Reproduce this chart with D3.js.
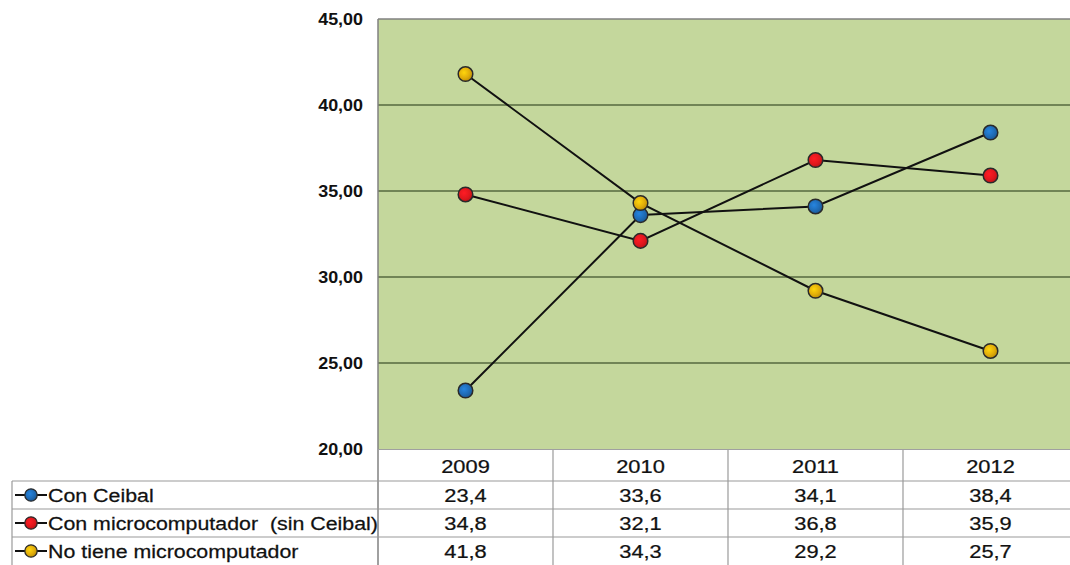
<!DOCTYPE html>
<html><head><meta charset="utf-8">
<script src="https://cdn.jsdelivr.net/npm/d3@7"></script>
<style>body{margin:0;background:#fff}svg{display:block}</style>
</head><body><svg id="c" width="1070" height="565"></svg>
<script>
const years = ["2009","2010","2011","2012"];
const seriesNames = ["Con Ceibal","Con microcomputador  (sin Ceibal)","No tiene microcomputador"];
const conCeibal = [23.4,33.6,34.1,38.4];
const conMicro = [34.8,32.1,36.8,35.9];
const noTiene = [41.8,34.3,29.2,25.7];
const yTicks = [20,25,30,35,40,45];
const colors = ["#1f6bb5","#e0171d","#e0ac0a"];

const svg = d3.select("#c");
const L = 378, R = 1078, T = 19, B = 449;
const x = d3.scaleBand().domain(years).range([L,R]);
const y = d3.scaleLinear().domain([20,45]).range([B,T]);
const fmt = v => v.toFixed(2).replace(".",",");
const fmt1 = v => v.toFixed(1).replace(".",",");

const defs = svg.append("defs");
colors.forEach((c,i)=>{
  const g = defs.append("radialGradient").attr("id","g"+i).attr("cx","40%").attr("cy","40%").attr("r","65%");
  g.append("stop").attr("offset","0%").attr("stop-color",d3.color(c).brighter(0.6));
  g.append("stop").attr("offset","60%").attr("stop-color",c);
  g.append("stop").attr("offset","100%").attr("stop-color",d3.color(c).darker(0.6));
});

svg.append("rect").attr("x",L).attr("y",T).attr("width",R-L).attr("height",B-T).attr("fill","#c4d79c");
const yAxis = d3.axisLeft(y).tickValues(yTicks).tickFormat(fmt).tickSize(0).tickPadding(0);
const ga = svg.append("g").attr("transform",`translate(${L},0)`).call(yAxis);
ga.select(".domain").remove();
ga.selectAll("text").attr("font-family","Arial, Liberation Sans").attr("font-weight","bold").attr("font-size",16).attr("fill","#111")
  .attr("x",-15/1.12).attr("transform","scale(1.12,1)");
svg.append("g").selectAll("line").data(yTicks.filter(t=>t>20&&t<45)).join("line")
  .attr("x1",L).attr("x2",R).attr("y1",d=>y(d)).attr("y2",d=>y(d)).attr("stroke","#56683f").attr("stroke-width",1.6);
svg.append("line").attr("x1",L).attr("x2",R).attr("y1",T).attr("y2",T).attr("stroke","#808080").attr("stroke-width",1.5);
svg.append("line").attr("x1",L).attr("x2",L).attr("y1",T).attr("y2",565).attr("stroke","#808080").attr("stroke-width",1.5);

const allSeries = [conCeibal,conMicro,noTiene];
const cx = d => x(d)+x.bandwidth()/2;
const line = d3.line().x((d,i)=>cx(years[i])).y(d=>y(d));
allSeries.forEach((s,k)=>{
  svg.append("path").attr("d",line(s)).attr("fill","none").attr("stroke","#111").attr("stroke-width",2);
});
allSeries.forEach((s,k)=>{
  svg.append("g").selectAll("circle").data(s).join("circle")
    .attr("cx",(d,i)=>cx(years[i])).attr("cy",d=>y(d)).attr("r",7.3)
    .attr("fill",`url(#g${k})`).attr("stroke","#2a2a2a").attr("stroke-width",1.5);
});

// data table
const rowTop = [452,481,509,537];
const tg = svg.append("g");
const tl = "#9a9a9a";
tg.selectAll("line.v").data(years.slice(1).concat(["end"])).join("line")
  .attr("x1",d=>d==="end"?R:x(d)).attr("x2",d=>d==="end"?R:x(d)).attr("y1",B).attr("y2",565).attr("stroke",tl).attr("stroke-width",1.2);
tg.append("line").attr("x1",L).attr("x2",R).attr("y1",B+0.5).attr("y2",B+0.5).attr("stroke","#a0a0a0").attr("stroke-width",1);
tg.selectAll("line.h").data([481,509,537]).join("line")
  .attr("x1",12).attr("x2",R).attr("y1",d=>d).attr("y2",d=>d).attr("stroke",tl).attr("stroke-width",1.2);
tg.append("line").attr("x1",12).attr("x2",12).attr("y1",481).attr("y2",565).attr("stroke",tl).attr("stroke-width",1.2);

function stretched(sel, tx, ty, txt, anchor, sx){
  return sel.append("g").attr("transform",`translate(${tx},${ty}) scale(${sx},1)`)
    .append("text").attr("text-anchor",anchor)
    .attr("font-family","Arial, Liberation Sans").attr("font-size",18.5).attr("fill","#111")
    .attr("stroke","#111").attr("stroke-width",0.25).style("white-space","pre").text(txt);
}
years.forEach(yr=>stretched(tg, cx(yr), 473, yr, "middle", 1.18));
allSeries.forEach((s,k)=>{
  s.forEach((v,i)=>stretched(tg, cx(years[i]), rowTop[k+1]+21, fmt1(v), "middle", 1.18));
  const ly = rowTop[k+1]+14;
  tg.append("line").attr("x1",15).attr("x2",47).attr("y1",ly).attr("y2",ly).attr("stroke","#111").attr("stroke-width",2);
  tg.append("circle").attr("cx",31).attr("cy",ly).attr("r",6.2).attr("fill",`url(#g${k})`).attr("stroke","#2a2a2a").attr("stroke-width",1.3);
  stretched(tg, 48, ly+7, seriesNames[k], "start", 1.155);
});
</script></body></html>
